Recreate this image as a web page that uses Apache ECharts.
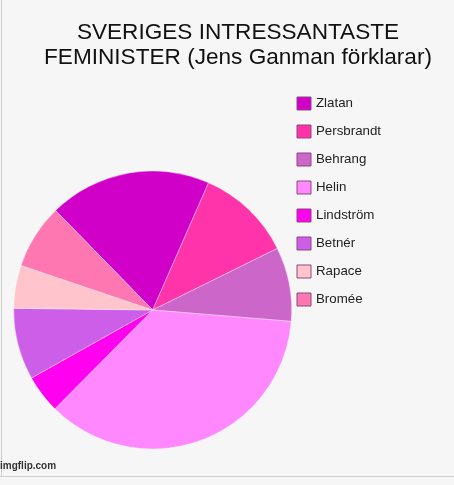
<!DOCTYPE html>
<html>
<head>
<meta charset="utf-8">
<script src="https://cdn.jsdelivr.net/npm/echarts@6/dist/echarts.min.js"></script>
<style>
  html, body { margin: 0; padding: 0; background: #f6f6f6; }
  #chart { width: 454px; height: 485px; }
</style>
</head>
<body>
<div id="chart"></div>
<script>
const names = ['Zlatan', 'Persbrandt', 'Behrang', 'Helin', 'Lindström', 'Betnér', 'Rapace', 'Bromée']
const values = [68, 40, 31, 130, 16, 30, 18, 27]
const colors = ['#d000c8', '#ff33aa', '#cc66c8', '#ff88ff', '#ff00f0', '#cc5ee8', '#ffc4cc', '#ff77b0']

const myChart = echarts.init(document.getElementById('chart'))

const option = {
  backgroundColor: '#f6f6f6',
  animation: false,
  title: {
    text: 'SVERIGES INTRESSANTASTE\nFEMINISTER (Jens Ganman förklarar)',
    left: 233,
    top: 15,
    textAlign: 'center',
    textStyle: {
      fontFamily: 'Liberation Sans, Arial, sans-serif',
      fontWeight: 'normal',
      fontSize: 22.6,
      lineHeight: 25,
      color: '#111'
    }
  },
  legend: {
    orient: 'vertical',
    left: 296.5,
    top: 96.5,
    padding: 0,
    icon: 'rect',
    itemWidth: 14,
    itemHeight: 13,
    itemGap: 14,
    data: names,
    textStyle: {
      fontFamily: 'Liberation Sans, Arial, sans-serif',
      fontSize: 13.3,
      color: '#222'
    },
    itemStyle: {
      borderColor: '#8a4a7a',
      borderWidth: 1
    }
  },
  graphic: [
    {
      type: 'line',
      shape: { x1: 1.5, y1: 0, x2: 1.5, y2: 477 },
      style: { stroke: '#cfcfcf', lineWidth: 1 }
    },
    {
      type: 'line',
      shape: { x1: 0, y1: 476.5, x2: 454, y2: 476.5 },
      style: { stroke: '#cfcfcf', lineWidth: 1 }
    },
    {
      type: 'text',
      left: 0,
      top: 461,
      style: {
        text: 'imgflip.com',
        fill: '#333',
        font: 'bold 10px Liberation Sans, Arial, sans-serif'
      }
    }
  ],
  series: [
    {
      type: 'pie',
      center: [152.7, 310],
      radius: 139,
      startAngle: 134.3,
      clockwise: true,
      label: { show: false },
      labelLine: { show: false },
      emphasis: { disabled: true },
      itemStyle: {
        borderColor: 'rgba(255,255,255,0.35)',
        borderWidth: 1
      },
      data: names.map((n, i) => ({
        name: n,
        value: values[i],
        itemStyle: { color: colors[i] }
      }))
    }
  ]
}

myChart.setOption(option)
</script>
</body>
</html>
